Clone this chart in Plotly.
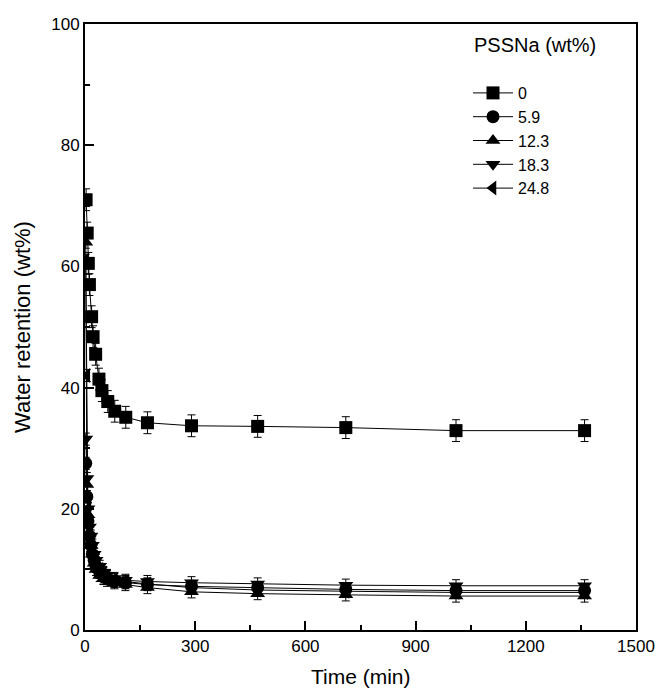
import plotly.graph_objects as go

# ---- data ----
labels = ["0", "5.9", "12.3", "18.3", "24.8"]
symbols = ["square", "circle", "triangle-up", "triangle-down", "triangle-left"]

t_0 = [3, 6, 9, 12, 18, 22, 29, 38, 46, 62, 81, 111, 170, 290, 470, 710, 1010, 1360]
v_0 = [71, 65.5, 60.5, 57, 51.7, 48.4, 45.5, 41.4, 39.5, 37.7, 36.1, 35.1, 34.2, 33.7, 33.6, 33.4, 32.9, 32.9]
e_0 = [1.8] * len(t_0)

t_low = [2, 5, 8, 12, 16, 20, 25, 30, 40, 50, 60, 80, 110, 170, 290, 470, 710, 1010, 1360]
v_59 = [27.5, 22, 18, 15.5, 14, 12.5, 11.5, 10.5, 9.5, 9, 8.5, 8.0, 7.8, 7.5, 7.2, 7.0, 6.7, 6.5, 6.5]
v_123 = [64, 24, 19, 16, 14, 12.5, 11, 10, 9, 8.5, 8.2, 7.8, 7.5, 7.0, 6.3, 6.0, 5.8, 5.6, 5.6]
v_183 = [31.5, 25, 20, 17, 15.5, 14, 12.5, 11.5, 10.5, 9.5, 9, 8.5, 8.2, 8.0, 7.8, 7.6, 7.4, 7.3, 7.3]
v_248 = [61, 42, 20, 17, 15, 13, 12, 11, 10, 9.3, 8.8, 8.3, 8.0, 7.6, 7.0, 6.6, 6.4, 6.2, 6.2]
e_low = [1.0] * len(t_low)

series = [
    (t_0, v_0, e_0),
    (t_low, v_59, e_low),
    (t_low, v_123, e_low),
    (t_low, v_183, e_low),
    (t_low, v_248, e_low),
]

x_ticks = [0, 300, 600, 900, 1200, 1500]
y_ticks = [0, 20, 40, 60, 80, 100]

FONT = "Liberation Sans, Arial, sans-serif"
L, R, T, B = 85, 21, 24, 63
W, H = 657, 693
PW, PH = W - L - R, H - T - B

fig = go.Figure()
for (t, v, e), lab, sym in zip(series, labels, symbols):
    fig.add_trace(go.Scatter(
        x=t, y=v, name=lab, mode="lines+markers",
        line=dict(color="black", width=1),
        marker=dict(symbol=sym, size=13, color="black"),
        error_y=dict(type="data", array=e, visible=True, color="black",
                     thickness=1, width=4),
    ))

fig.update_layout(
    width=W, height=H,
    margin=dict(l=L, r=R, t=T, b=B, autoexpand=False),
    plot_bgcolor="white", paper_bgcolor="white",
    font=dict(family=FONT, size=16, color="black"),
    showlegend=True,
    legend=dict(x=(468 - L) / PW, y=(H - B - 76) / PH, xanchor="left", yanchor="top",
                bgcolor="rgba(0,0,0,0)", font=dict(size=16),
                tracegroupgap=0, itemwidth=40),
    annotations=[
        dict(text="PSSNa (wt%)", x=(472 - L) / PW, y=(H - B - 45) / PH,
             xref="paper", yref="paper", xanchor="left", yanchor="middle",
             showarrow=False, font=dict(size=20)),
        dict(text="Time (min)", x=0.5, y=-(676 - (H - B)) / PH,
             xref="paper", yref="paper", xanchor="center", yanchor="middle",
             showarrow=False, font=dict(size=21)),
        dict(text="Water retention (wt%)", x=-(L - 22) / PW, y=0.5, textangle=-90,
             xref="paper", yref="paper", xanchor="center", yanchor="middle",
             showarrow=False, font=dict(size=22)),
    ],
)
fig.update_xaxes(
    range=[0, 1500], tickvals=x_ticks, ticktext=[str(v) for v in x_ticks],
    ticks="inside", ticklen=9, tickwidth=1.5, tickcolor="black",
    minor=dict(tickvals=[150, 450, 750, 1050, 1350], ticks="inside", ticklen=5,
               tickwidth=1.5, tickcolor="black"),
    showline=True, linecolor="black", linewidth=2, mirror=True,
    showgrid=False, zeroline=False, automargin=False,
    tickfont=dict(size=17),
)
fig.update_yaxes(
    range=[0, 100], tickvals=y_ticks, ticktext=[str(v) for v in y_ticks],
    ticks="inside", ticklen=9, tickwidth=1.5, tickcolor="black",
    minor=dict(tickvals=[10, 30, 50, 70, 90], ticks="inside", ticklen=5,
               tickwidth=1.5, tickcolor="black"),
    showline=True, linecolor="black", linewidth=2, mirror=True,
    showgrid=False, zeroline=False, automargin=False,
    tickfont=dict(size=17),
)

fig.write_html("out.html", config={"displayModeBar": False},
               post_script="document.body.style.margin='0';document.body.style.overflow='hidden';")
